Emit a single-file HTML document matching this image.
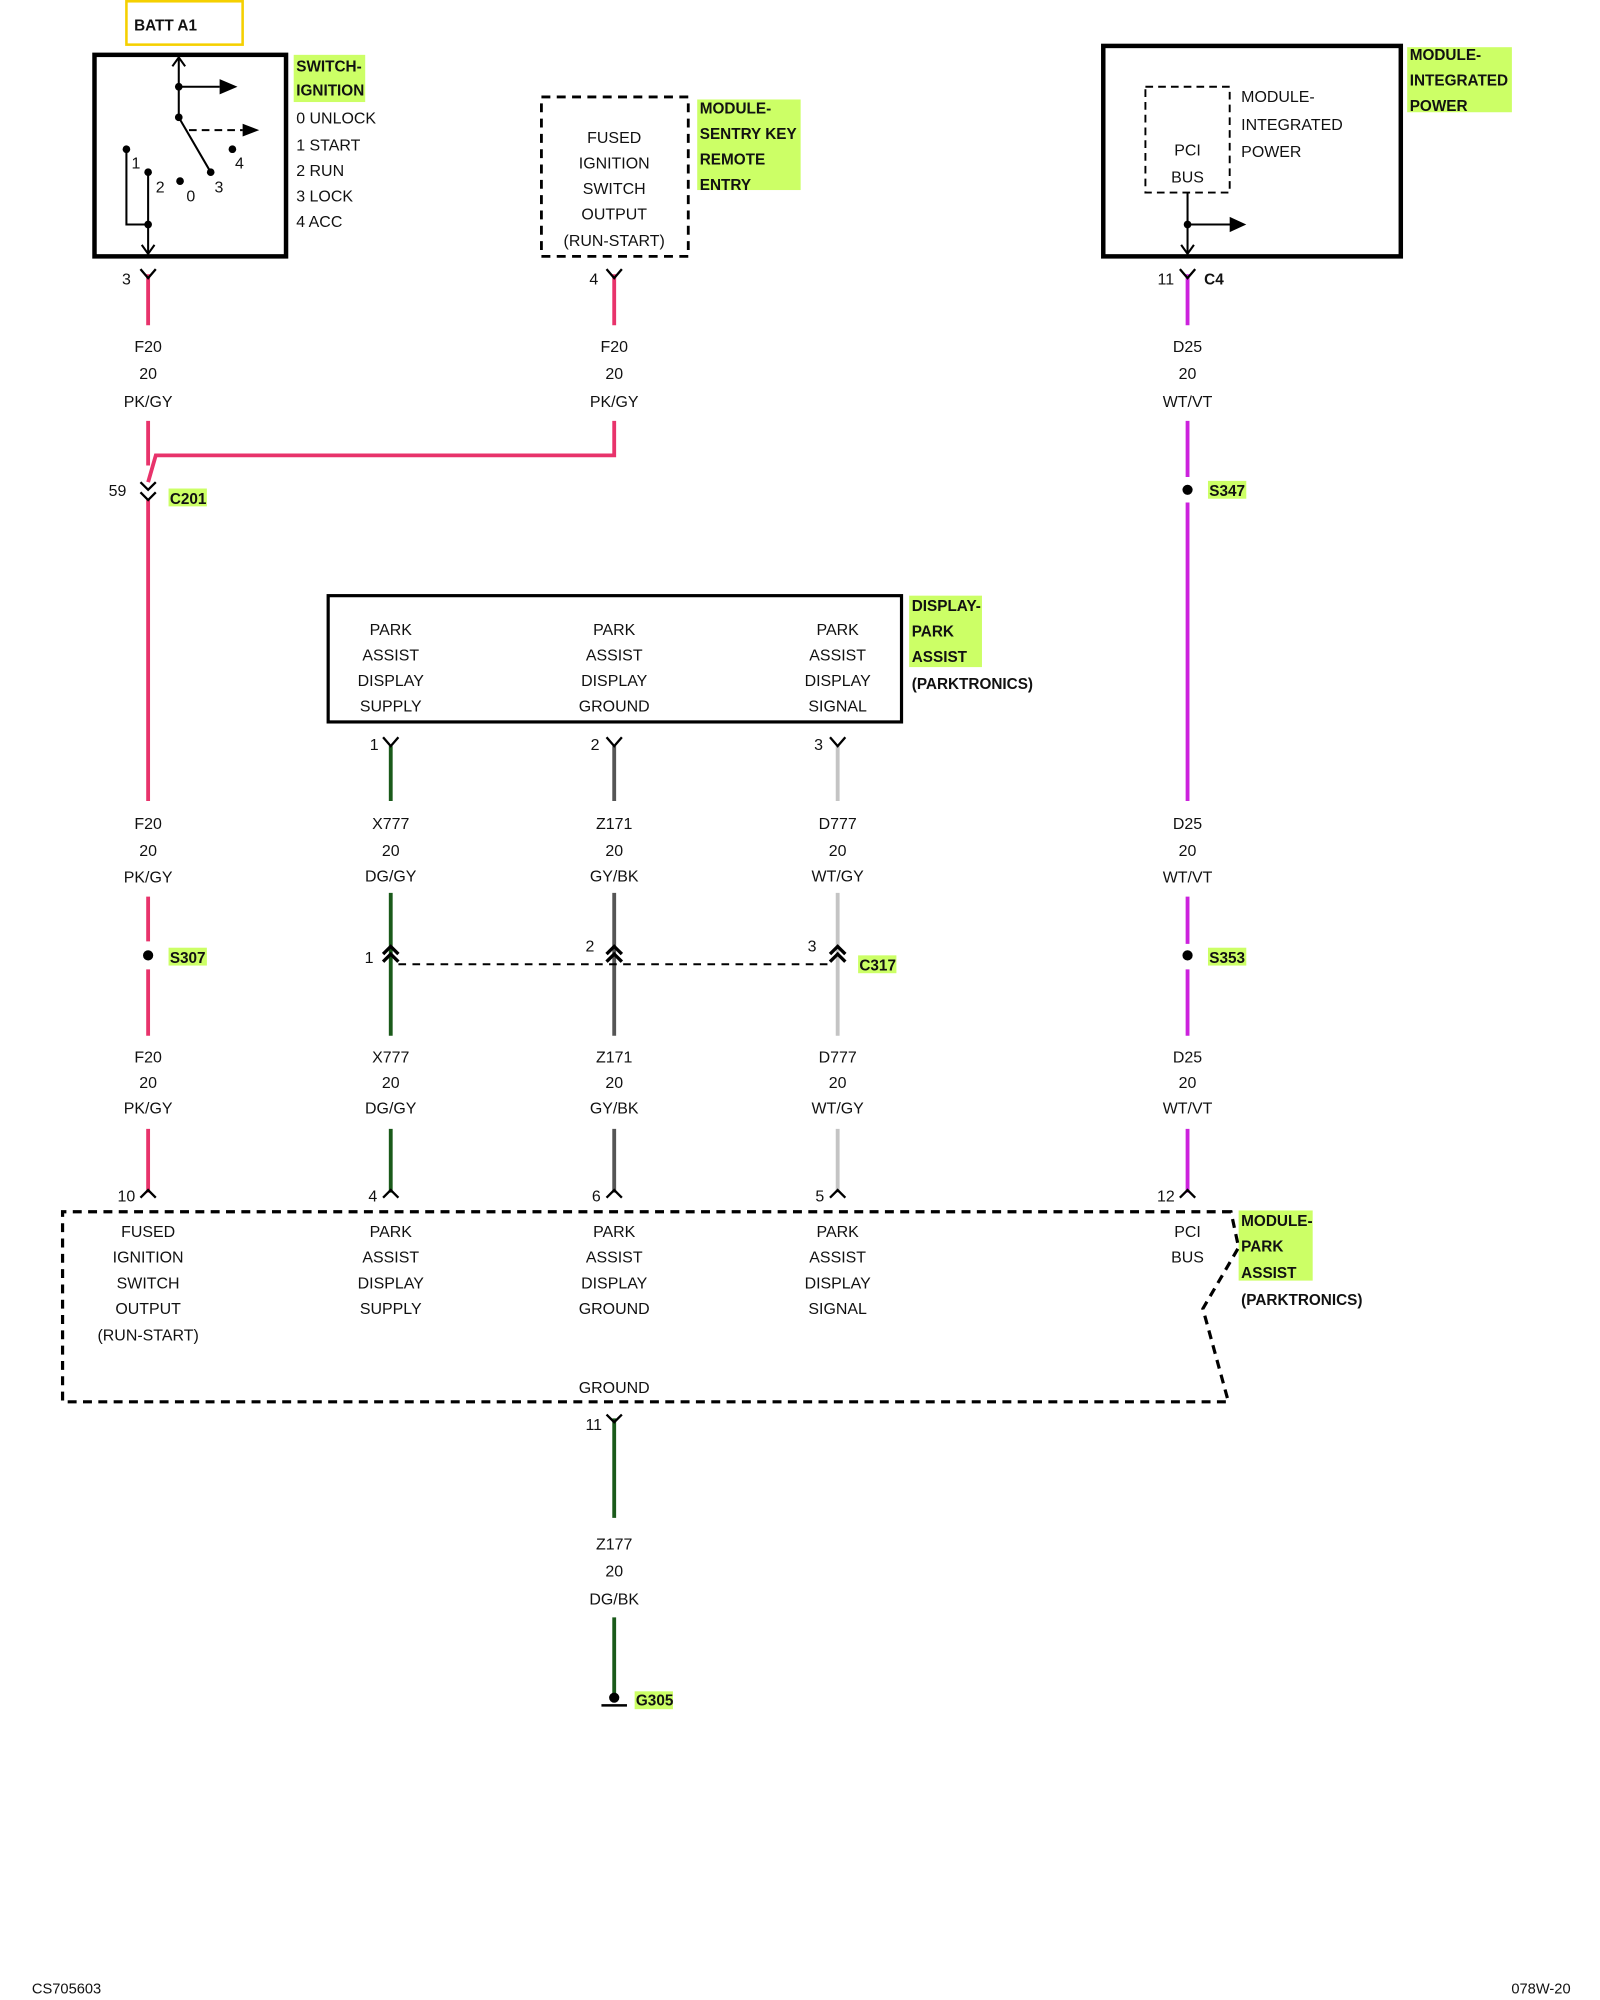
<!DOCTYPE html>
<html><head><meta charset="utf-8"><style>
html,body{margin:0;padding:0;background:#fff;width:1600px;height:2000px;overflow:hidden}
svg{display:block}
text{font-family:"Liberation Sans",sans-serif;font-size:12.5px;fill:#111}
.c{text-anchor:middle}
.b{font-weight:bold;font-size:12px}
</style></head><body>
<svg width="1600" height="2000" viewBox="0 0 1253 1568" preserveAspectRatio="none" xmlns="http://www.w3.org/2000/svg">
<g fill="#ccff66">
<rect x="230" y="43" width="56" height="37"/>
<rect x="546" y="78" width="81" height="71"/>
<rect x="1102" y="37" width="82" height="51"/>
<rect x="712" y="467" width="57" height="56"/>
<rect x="970" y="949" width="58" height="55"/>
<rect x="132" y="383" width="30" height="14"/>
<rect x="946" y="377" width="30" height="14"/>
<rect x="132" y="743" width="30" height="14"/>
<rect x="946" y="743" width="30" height="14"/>
<rect x="672" y="749" width="30" height="14"/>
<rect x="497" y="1326" width="30" height="14"/>
</g>
<rect x="99" y="1" width="91" height="34" fill="none" stroke="#f5d000" stroke-width="2"/>
<text x="105" y="24" class="b">BATT A1</text>
<rect x="74" y="43" width="150" height="158" fill="none" stroke="#000" stroke-width="3.5"/>
<g stroke="#000" stroke-width="1.6" fill="none">
<path d="M140 45V92L165 135"/>
<path d="M135 52L140 45L145 52"/>
<path d="M140 68H172"/>
<path d="M148 102H190" stroke-dasharray="6,4"/>
<path d="M99 117V176H116M116 135V199"/>
<path d="M111 192L116 199L121 192"/>
</g>
<polygon points="172,62 186,68 172,74"/>
<polygon points="190,97 203,102 190,107"/>
<g fill="#000"><circle cx="140" cy="68" r="3"/><circle cx="140" cy="92" r="3"/><circle cx="99" cy="117" r="3"/><circle cx="116" cy="135" r="3"/><circle cx="141" cy="142" r="3"/><circle cx="165" cy="135" r="3"/><circle cx="182" cy="117" r="3"/><circle cx="116" cy="176" r="3"/></g>
<text x="103" y="132">1</text><text x="122" y="151">2</text><text x="146" y="158">0</text><text x="168" y="151">3</text><text x="184" y="132">4</text>
<text x="232" y="56" class="b">SWITCH-</text><text x="232" y="75" class="b">IGNITION</text>
<text x="232" y="97">0 UNLOCK</text><text x="232" y="118">1 START</text><text x="232" y="138">2 RUN</text><text x="232" y="158">3 LOCK</text><text x="232" y="178">4 ACC</text>
<rect x="424" y="76" width="115" height="125" fill="none" stroke="#000" stroke-width="2.2" stroke-dasharray="7,5"/>
<text x="481" y="112" class="c">FUSED</text><text x="481" y="132" class="c">IGNITION</text><text x="481" y="152" class="c">SWITCH</text><text x="481" y="172" class="c">OUTPUT</text><text x="481" y="193" class="c">(RUN-START)</text>
<text x="548" y="89" class="b">MODULE-</text><text x="548" y="109" class="b">SENTRY KEY</text><text x="548" y="129" class="b">REMOTE</text><text x="548" y="149" class="b">ENTRY</text>
<rect x="864" y="36" width="233" height="165" fill="none" stroke="#000" stroke-width="3.5"/>
<rect x="897" y="68" width="66" height="83" fill="none" stroke="#000" stroke-width="1.5" stroke-dasharray="6,4"/>
<text x="930" y="122" class="c">PCI</text><text x="930" y="143" class="c">BUS</text>
<text x="972" y="80">MODULE-</text><text x="972" y="102">INTEGRATED</text><text x="972" y="123">POWER</text>
<text x="1104" y="47" class="b">MODULE-</text><text x="1104" y="67" class="b">INTEGRATED</text><text x="1104" y="87" class="b">POWER</text>
<g stroke="#000" stroke-width="1.6" fill="none"><path d="M930 151V199M930 176H964M925 192L930 199L935 192"/></g>
<polygon points="963,170 976,176 963,182"/><circle cx="930" cy="176" r="3"/>
<g fill="none" stroke-width="3">
<path stroke="#e8336b" d="M116 215V255M481 215V255M116 330V365M481 330V357H122L116 378M116 392V628M116 703V738M116 760V812M116 885V935"/>
<path stroke="#cc22dd" d="M930 215V255M930 330V374M930 394V628M930 703V740M930 760V812M930 885V935"/>
<path stroke="#1a5a1a" d="M306 585V628M306 700V812M306 885V935M481 1112V1190M481 1268V1328"/>
<path stroke="#555" d="M481 585V628M481 700V812M481 885V935"/>
<path stroke="#c4c4c4" d="M656 585V628M656 700V812M656 885V935"/>
</g>
<g stroke="#000" stroke-width="1.8" fill="none">
<path d="M110 211L116 218L122 211M475 211L481 218L487 211M924 211L930 218L936 211"/>
<path d="M110 378L116 384L122 378M110 386L116 392L122 386"/>
<path d="M300 578L306 585L312 578M475 578L481 585L487 578M650 578L656 585L662 578"/>
<path d="M110 939L116 933L122 939M300 939L306 933L312 939M475 939L481 933L487 939M650 939L656 933L662 939M924 939L930 933L936 939"/>
<path d="M475 1109L481 1115L487 1109"/>
</g>
<g stroke="#000" stroke-width="2.6" fill="none">
<path d="M300 748L306 742L312 748M300 754L306 748L312 754M475 748L481 742L487 748M475 754L481 748L487 754M650 748L656 742L662 748M650 754L656 748L662 754"/>
</g>
<path d="M312 756H650" stroke="#000" stroke-width="1.6" stroke-dasharray="6,5"/>
<text x="99" y="223" class="c">3</text><text x="465" y="223" class="c">4</text><text x="913" y="223" class="c">11</text><text x="943" y="223" class="b">C4</text>
<text x="92" y="389" class="c">59</text><text x="133" y="395" class="b">C201</text>
<text x="293" y="588" class="c">1</text><text x="466" y="588" class="c">2</text><text x="641" y="588" class="c">3</text>
<text x="289" y="755" class="c">1</text><text x="462" y="746" class="c">2</text><text x="636" y="746" class="c">3</text><text x="673" y="761" class="b">C317</text>
<text x="99" y="942" class="c">10</text><text x="292" y="942" class="c">4</text><text x="467" y="942" class="c">6</text><text x="642" y="942" class="c">5</text><text x="913" y="942" class="c">12</text>
<text x="465" y="1121" class="c">11</text>
<circle cx="930" cy="384" r="4"/><circle cx="116" cy="749" r="4"/><circle cx="930" cy="749" r="4"/>
<text x="947" y="389" class="b">S347</text><text x="133" y="755" class="b">S307</text><text x="947" y="755" class="b">S353</text>
<g>
<text x="116" y="276" class="c">F20</text><text x="116" y="297" class="c">20</text><text x="116" y="319" class="c">PK/GY</text>
<text x="481" y="276" class="c">F20</text><text x="481" y="297" class="c">20</text><text x="481" y="319" class="c">PK/GY</text>
<text x="930" y="276" class="c">D25</text><text x="930" y="297" class="c">20</text><text x="930" y="319" class="c">WT/VT</text>
<text x="116" y="650" class="c">F20</text><text x="116" y="671" class="c">20</text><text x="116" y="692" class="c">PK/GY</text>
<text x="306" y="650" class="c">X777</text><text x="306" y="671" class="c">20</text><text x="306" y="691" class="c">DG/GY</text>
<text x="481" y="650" class="c">Z171</text><text x="481" y="671" class="c">20</text><text x="481" y="691" class="c">GY/BK</text>
<text x="656" y="650" class="c">D777</text><text x="656" y="671" class="c">20</text><text x="656" y="691" class="c">WT/GY</text>
<text x="930" y="650" class="c">D25</text><text x="930" y="671" class="c">20</text><text x="930" y="692" class="c">WT/VT</text>
<text x="116" y="833" class="c">F20</text><text x="116" y="853" class="c">20</text><text x="116" y="873" class="c">PK/GY</text>
<text x="306" y="833" class="c">X777</text><text x="306" y="853" class="c">20</text><text x="306" y="873" class="c">DG/GY</text>
<text x="481" y="833" class="c">Z171</text><text x="481" y="853" class="c">20</text><text x="481" y="873" class="c">GY/BK</text>
<text x="656" y="833" class="c">D777</text><text x="656" y="853" class="c">20</text><text x="656" y="873" class="c">WT/GY</text>
<text x="930" y="833" class="c">D25</text><text x="930" y="853" class="c">20</text><text x="930" y="873" class="c">WT/VT</text>
<text x="481" y="1215" class="c">Z177</text><text x="481" y="1236" class="c">20</text><text x="481" y="1258" class="c">DG/BK</text>
</g>
<rect x="257" y="467" width="449" height="99" fill="none" stroke="#000" stroke-width="2.5"/>
<text x="306" y="498" class="c">PARK</text><text x="306" y="518" class="c">ASSIST</text><text x="306" y="538" class="c">DISPLAY</text><text x="306" y="558" class="c">SUPPLY</text>
<text x="481" y="498" class="c">PARK</text><text x="481" y="518" class="c">ASSIST</text><text x="481" y="538" class="c">DISPLAY</text><text x="481" y="558" class="c">GROUND</text>
<text x="656" y="498" class="c">PARK</text><text x="656" y="518" class="c">ASSIST</text><text x="656" y="538" class="c">DISPLAY</text><text x="656" y="558" class="c">SIGNAL</text>
<text x="714" y="479" class="b">DISPLAY-</text><text x="714" y="499" class="b">PARK</text><text x="714" y="519" class="b">ASSIST</text><text x="714" y="540" class="b">(PARKTRONICS)</text>
<path d="M964 950H49V1099H962L942 1026L970 978Z" fill="none" stroke="#000" stroke-width="2.5" stroke-dasharray="7,5"/>
<text x="116" y="970" class="c">FUSED</text><text x="116" y="990" class="c">IGNITION</text><text x="116" y="1010" class="c">SWITCH</text><text x="116" y="1030" class="c">OUTPUT</text><text x="116" y="1051" class="c">(RUN-START)</text>
<text x="306" y="970" class="c">PARK</text><text x="306" y="990" class="c">ASSIST</text><text x="306" y="1010" class="c">DISPLAY</text><text x="306" y="1030" class="c">SUPPLY</text>
<text x="481" y="970" class="c">PARK</text><text x="481" y="990" class="c">ASSIST</text><text x="481" y="1010" class="c">DISPLAY</text><text x="481" y="1030" class="c">GROUND</text>
<text x="656" y="970" class="c">PARK</text><text x="656" y="990" class="c">ASSIST</text><text x="656" y="1010" class="c">DISPLAY</text><text x="656" y="1030" class="c">SIGNAL</text>
<text x="930" y="970" class="c">PCI</text><text x="930" y="990" class="c">BUS</text>
<text x="481" y="1092" class="c">GROUND</text>
<text x="972" y="961" class="b">MODULE-</text><text x="972" y="981" class="b">PARK</text><text x="972" y="1002" class="b">ASSIST</text><text x="972" y="1023" class="b">(PARKTRONICS)</text>
<circle cx="481" cy="1331" r="4"/>
<path d="M471 1337H491" stroke="#000" stroke-width="2"/>
<text x="498" y="1337" class="b">G305</text>
<text x="25" y="1563" style="font-size:11.5px">CS705603</text>
<text x="1230" y="1563" style="font-size:11.5px;text-anchor:end">078W-20</text>
</svg>
</body></html>
